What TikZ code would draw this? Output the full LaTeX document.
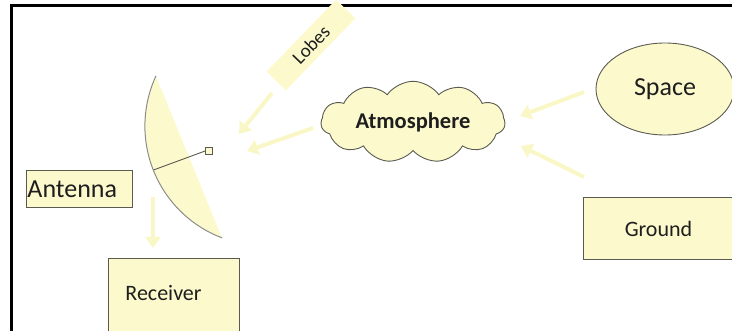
\documentclass[tikz,border=0pt]{standalone}
\usepackage{fontspec}
\setmainfont{Carlito}
\usetikzlibrary{shapes.symbols,shapes.geometric,arrows.meta}
\definecolor{fillY}{RGB}{252,250,204}
\definecolor{arrY}{RGB}{250,247,198}
\definecolor{edgeG}{RGB}{90,90,80}
\definecolor{txt}{RGB}{30,30,30}
\tikzset{
  box/.style={draw=edgeG, line width=0.9pt, fill=fillY, text=txt, inner sep=0pt},
  flow/.style={draw=arrY, line width=4pt, -{Triangle[length=11pt,width=15pt]}},
}
\begin{document}
\begin{tikzpicture}[x=1pt,y=-1pt]
\useasboundingbox (0,0) rectangle (732,331);
% frame
\draw[line width=3pt, black] (11,335) -- (11,6) -- (740,6);
% dish
\fill[fillY] plot[domain=204.8:110.8, samples=50, variable=\t] ({264.5+119.6*cos(\t)},{126.1+119.6*sin(\t)}) -- cycle;
\draw[draw=gray!90, line width=1pt] plot[domain=204.8:110.8, samples=50, variable=\t] ({264.5+119.6*cos(\t)},{126.1+119.6*sin(\t)});
\coordinate (feedA) at (153.5,170);
\node[draw=edgeG, fill=fillY, minimum size=7pt, inner sep=0pt, line width=0.8pt] (feed) at (209,151) {};
\draw[edgeG, line width=0.9pt] (feedA) -- (feed.west);
% nodes
\node[box, minimum width=106pt, minimum height=37pt, font=\fontsize{26}{28}\selectfont, anchor=north west, text width=104pt, align=left] (ant) at (26,170) {Antenna};
\node[box, minimum width=131pt, minimum height=90pt, anchor=north west] (rec) at (108,258) {};
\node[font=\fontsize{22}{24}\selectfont, text=txt] (rectxt) at (163.5,293) {Receiver};
\node[box, cloud, cloud puffs=11, cloud puff arc=110, aspect=2.7, minimum width=184pt, minimum height=66pt, font=\bfseries\fontsize{22.5}{24}\selectfont] (atm) at (413,122) {Atmosphere};
\node[box, ellipse, minimum width=138pt, minimum height=92pt, font=\fontsize{26}{28}\selectfont] (space) at (665,89) {Space};
\node[box, minimum width=160pt, minimum height=62pt, anchor=north west] (ground) at (583,197) {};
\node[font=\fontsize{22}{24}\selectfont, text=txt] (gtxt) at (658.5,229) {Ground};
\node[fill=fillY, rotate=46, minimum width=100pt, minimum height=27pt, inner sep=0pt, font=\fontsize{19}{21}\selectfont, text=txt] (lobes) at (311,45) {Lobes};
% arrow endpoints
\coordinate (l1) at (272,93);   \coordinate (l2) at (239,134);
\coordinate (a1) at (313,128);  \coordinate (a2) at (247,151);
\coordinate (s1) at (584,92);   \coordinate (s2) at (520,116);
\coordinate (g1) at (584,177);  \coordinate (g2) at (521,146);
\coordinate (r1) at (153,197);  \coordinate (r2) at (153,248);
\draw[flow] (l1) -- (l2);
\draw[flow] (a1) -- (a2);
\draw[flow] (s1) -- (s2);
\draw[flow] (g1) -- (g2);
\draw[flow] (r1) -- (r2);
\end{tikzpicture}
\end{document}
